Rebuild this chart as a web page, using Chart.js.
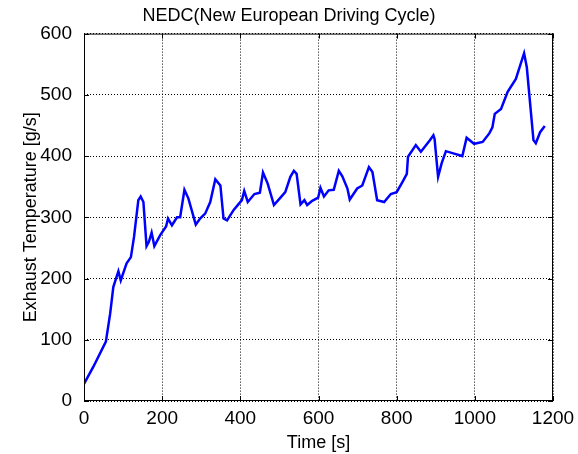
<!DOCTYPE html>
<html lang="en">

<head>
    <meta charset="utf-8" />
    <title>NEDC</title>
    <script src="https://cdn.jsdelivr.net/npm/chart.js"></script>
    <style>
        body { margin: 0; background: #ffffff; }
        canvas { display: block; }
    </style>
</head>

<body>
    <canvas id="grafico_nedc" width="578" height="454"></canvas>
</body>

</html>
<script>
    // Time axis (s) and measured exhaust temperature along the cycle
    const tempo = [0, 24, 56, 67, 75, 88, 94, 109, 120, 128, 139, 145, 152, 160, 166, 173, 180, 195, 210, 215,
        225, 238, 246, 257, 267, 286, 297, 310, 323, 336, 349, 357, 366, 383, 396, 404, 410, 419, 436, 450,
        458, 470, 486, 501, 515, 528, 537, 544, 554, 564, 571, 584, 599, 605, 614, 626, 639, 652, 661, 674,
        680, 699, 712, 729, 738, 750, 768, 785, 800, 815, 826, 829, 849, 862, 885, 894, 897, 906, 915, 926,
        947, 968, 979, 998, 1020, 1037, 1045, 1051, 1067, 1084, 1105, 1126, 1133, 1150, 1156, 1167, 1179];
    const temperatura = [28, 56, 97, 143, 186, 212, 197, 225, 235, 268, 328, 334, 325, 253, 260, 275, 253, 271, 285, 298,
        287, 300, 300, 345, 331, 288, 298, 306, 325, 362, 352, 298, 295, 312, 322, 328, 343, 325, 338, 340,
        373, 355, 320, 331, 341, 366, 376, 371, 321, 328, 320, 327, 332, 348, 334, 344, 345, 376, 367, 347,
        329, 347, 352, 382, 374, 328, 325, 338, 341, 358, 371, 399, 418, 407, 426, 434, 428, 366, 388, 408,
        404, 400, 430, 420, 423, 437, 447, 469, 477, 505, 526, 568, 545, 426, 421, 439, 449];

    const ticksX = [0, 200, 400, 600, 800, 1000, 1200];
    const ticksY = [0, 100, 200, 300, 400, 500, 600];

    const fonte = { family: "Arial, 'Liberation Sans', sans-serif", size: 18 };
    const fonteTicks = { ...fonte, size: 19 };

    // Box around the axes with short inward ticks
    const moldura = {
        id: "moldura",
        afterDraw(chart) {
            const { ctx, chartArea: a, scales } = chart;
            ctx.save();
            ctx.strokeStyle = "#000000";
            ctx.lineWidth = 1;
            ctx.setLineDash([]);
            ctx.strokeRect(a.left + 0.5, a.top + 0.5, a.right - a.left - 1, a.bottom - a.top - 1);
            ctx.beginPath();
            ticksX.forEach((v) => {
                const px = Math.round(scales.x.getPixelForValue(v)) + 0.5;
                ctx.moveTo(px, a.bottom); ctx.lineTo(px, a.bottom - 5);
                ctx.moveTo(px, a.top); ctx.lineTo(px, a.top + 5);
            });
            ticksY.forEach((v) => {
                const py = Math.round(scales.y.getPixelForValue(v)) + 0.5;
                ctx.moveTo(a.left, py); ctx.lineTo(a.left + 5, py);
                ctx.moveTo(a.right, py); ctx.lineTo(a.right - 5, py);
            });
            ctx.stroke();
            ctx.restore();
        }
    };

    const grade = { color: "#000000", lineWidth: 1, drawTicks: false };
    const borda = { display: false, dash: [1, 2] };

    new Chart(document.getElementById("grafico_nedc").getContext("2d"), {
        type: "line",
        data: {
            datasets: [{
                data: tempo.map((t, i) => ({ x: t, y: temperatura[i] })),
                borderColor: "#0000ff",
                borderWidth: 2.5,
                pointRadius: 0,
                tension: 0,
                fill: false
            }]
        },
        options: {
            responsive: false,
            animation: false,
            layout: { padding: 0 },
            plugins: {
                legend: { display: false },
                tooltip: { enabled: false },
                title: {
                    display: true,
                    text: "NEDC(New European Driving Cycle)",
                    color: "#000000",
                    font: { ...fonte, weight: "normal", lineHeight: 1.2 },
                    padding: { top: 5, bottom: 7 }
                }
            },
            scales: {
                x: {
                    type: "linear",
                    min: 0,
                    max: 1200,
                    afterBuildTicks: (s) => { s.ticks = ticksX.map((v) => ({ value: v })); },
                    afterFit: (s) => { s.height = 53; s.paddingRight = 25; },
                    grid: grade,
                    border: borda,
                    ticks: { color: "#000000", font: fonteTicks, padding: 6, maxRotation: 0, callback: (v) => String(v) },
                    title: { display: true, text: "Time [s]", color: "#000000", font: fonte, padding: 0 }
                },
                y: {
                    min: 0,
                    max: 600,
                    afterBuildTicks: (s) => { s.ticks = ticksY.map((v) => ({ value: v })); },
                    afterFit: (s) => { s.width = 84; },
                    grid: grade,
                    border: borda,
                    ticks: { color: "#000000", font: fonteTicks, padding: 12, callback: (v) => String(v) },
                    title: { display: true, text: "Exhaust Temperature [g/s]", color: "#000000", font: fonte, padding: { top: 20, bottom: 0 } }
                }
            }
        },
        plugins: [moldura]
    });
</script>
